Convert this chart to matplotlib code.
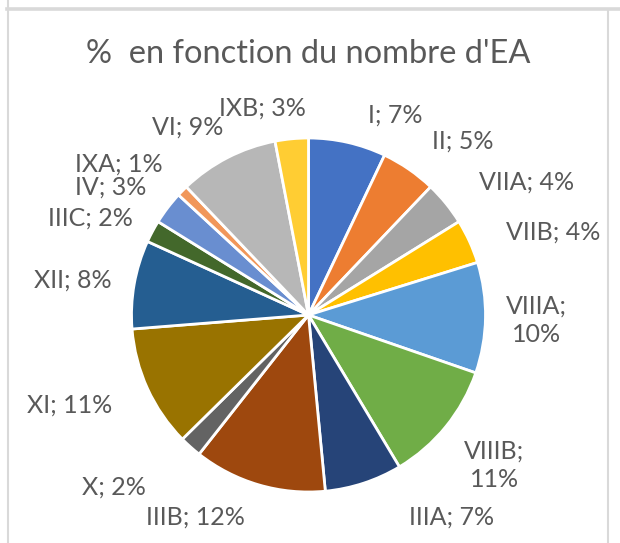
import matplotlib.pyplot as plt
from matplotlib.lines import Line2D

# Répartition par classe (%)
classes = ["I", "II", "VIIA", "VIIB", "VIIIA", "VIIIB", "IIIA", "IIIB",
           "X", "XI", "XII", "IIIC", "IV", "IXA", "VI", "IXB"]
pourcentages = [7, 5, 4, 4, 10, 11, 7, 12, 2, 11, 8, 2, 3, 1, 9, 3]
couleurs = ["#4472C4", "#ED7D31", "#A5A5A5", "#FFC000", "#5B9BD5", "#70AD47",
            "#264478", "#9E480E", "#636363", "#997300", "#255E91", "#43682B",
            "#698ED0", "#F1975A", "#B7B7B7", "#FFCD33"]

# position des étiquettes, en rayons depuis le centre
pos_etiquettes = [(0.49, 1.13), (0.87, 0.98), (1.23, 0.75), (1.38, 0.47),
                  (1.29, -0.03), (1.05, -0.85), (0.81, -1.14), (-0.64, -1.14),
                  (-1.10, -0.97), (-1.35, -0.51), (-1.33, 0.20), (-1.23, 0.55),
                  (-1.12, 0.72), (-1.07, 0.85), (-0.68, 1.06), (-0.26, 1.17)]
retour_ligne = {"VIIIA", "VIIIB"}

W, H = 620, 543
fig = plt.figure(figsize=(W / 100, H / 100), dpi=100)
ax = fig.add_axes([0, 0, 1, 1])

cx, cy, r = 308.5, H - 315, 177
ax.pie(pourcentages, colors=couleurs, startangle=90, counterclock=False,
       center=(cx, cy), radius=r, frame=True,
       wedgeprops=dict(edgecolor="white", linewidth=2))
ax.set_xlim(0, W)
ax.set_ylim(0, H)
ax.set_aspect("equal")
ax.axis("off")

gris = "#595959"
for nom, val, (ux, uy) in zip(classes, pourcentages, pos_etiquettes):
    sep = ";\n" if nom in retour_ligne else "; "
    ax.text(cx + ux * r, cy + uy * r, f"{nom}{sep}{val}%", ha="center",
            va="center", fontsize=18, color=gris, family="Lato",
            linespacing=1.25)

ax.text(308.5, H - 63, "%  en fonction du nombre d'EA", ha="center",
        va="baseline", fontsize=23.5, color=gris, family="Lato")

# cadre de la zone de graphique
bord = "#D9D9D9"
fig.add_artist(Line2D([7.5 / W, 7.5 / W], [0, 1], color=bord, lw=1.5))
fig.add_artist(Line2D([7 / W, 1], [1 - 8.7 / H, 1 - 8.7 / H], color=bord, lw=2.6))
fig.add_artist(Line2D([608 / W, 608 / W], [0, 1 - 10 / H], color=bord, lw=1.5))

fig.savefig("out.png", dpi=100)
